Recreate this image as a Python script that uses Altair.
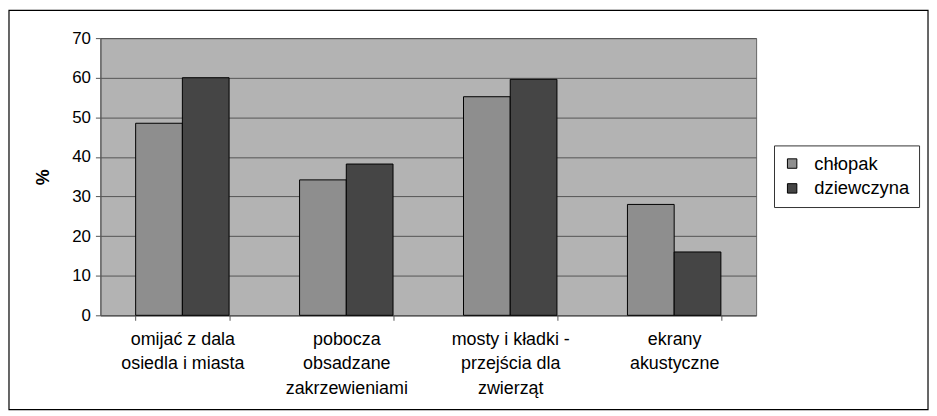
import altair as alt
import pandas as pd

categories = [
    "omijać z dala\nosiedla i miasta",
    "pobocza\nobsadzane\nzakrzewieniami",
    "mosty i kładki -\nprzejścia dla\nzwierząt",
    "ekrany\nakustyczne",
]
series = ["chłopak", "dziewczyna"]
chlopak = [48.5, 34.2, 55.2, 28.0]
dziewczyna = [60.0, 38.2, 59.6, 16.0]

rows = []
for c, a, b in zip(categories, chlopak, dziewczyna):
    rows.append({"kat": c, "płeć": series[0], "v": a})
    rows.append({"kat": c, "płeć": series[1], "v": b})
df = pd.DataFrame(rows)

W, H = 660, 279
FONT = "Liberation Sans"

bars = alt.Chart(df).mark_bar(stroke="black", strokeWidth=1).encode(
    x=alt.X("kat:N", sort=categories, title=None,
            scale=alt.Scale(paddingInner=0.43, paddingOuter=0.215),
            axis=alt.Axis(labelAngle=0, labelExpr="split(datum.label, '\\n')",
                          tickBand="extent", labelLineHeight=25, labelPadding=10,
                          labelBaseline="top", labelFontSize=18)),
    xOffset=alt.XOffset("płeć:N", sort=series),
    y=alt.Y("v:Q", title="%", scale=alt.Scale(domain=[0, 70], nice=False),
            axis=alt.Axis(values=list(range(0, 71, 10)), titlePadding=19,
                          labelPadding=5)),
    color=alt.Color("płeć:N", sort=series,
                    scale=alt.Scale(domain=series, range=["#8e8e8e", "#454545"]),
                    legend=alt.Legend(title=None, orient="none", legendX=678, legendY=108,
                                      strokeColor="#333", fillColor="white", padding=9,
                                      symbolType="square", symbolSize=90,
                                      symbolStrokeColor="black", symbolStrokeWidth=1,
                                      labelFontSize=18.5, labelFont=FONT, labelColor="black",
                                      rowPadding=6, labelOffset=13)),
)

border = alt.Chart(pd.DataFrame({"a": [0]})).mark_rect(
    fill=None, stroke="black", strokeWidth=1.2
).encode(
    x=alt.value(-92), x2=alt.value(W + 173),
    y=alt.value(-28), y2=alt.value(H + 95),
)

chart = alt.layer(bars, border).properties(
    width=W, height=H,
    autosize=alt.AutoSizeParams(type="none"),
    padding={"left": 93, "top": 29, "right": 174, "bottom": 96},
    background="white",
).configure_view(fill="#b3b3b3", stroke="#666", strokeWidth=1
).configure_axis(
    labelFontSize=17, labelFont=FONT, labelColor="black",
    titleFont=FONT, titleFontSize=18, titleFontWeight="bold", titleColor="black",
    gridColor="#555", gridOpacity=1, domainColor="#555", tickColor="#555", tickSize=5,
)

chart.save("out.html", embed_options={"renderer": "svg", "actions": False})
